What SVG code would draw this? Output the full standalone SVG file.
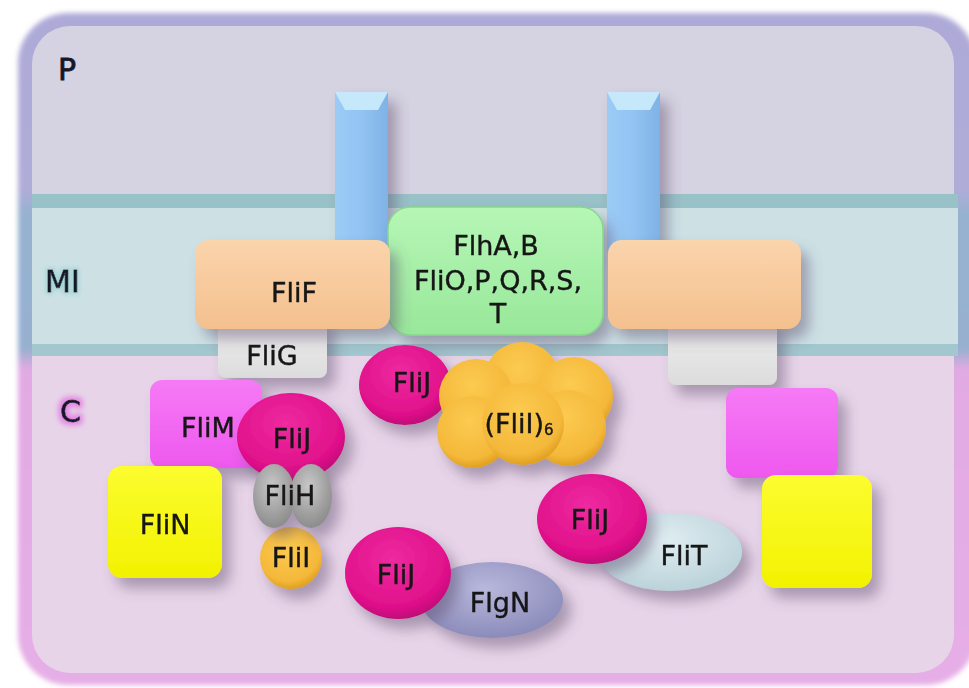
<svg xmlns="http://www.w3.org/2000/svg" width="969" height="688" viewBox="0 0 969 688">
<defs>
<style>
.t{font-family:"DejaVu Sans","Liberation Sans",sans-serif;font-size:27px;fill:#161616;text-anchor:middle;stroke:#161616;stroke-width:0.4px}
.lab{font-family:"DejaVu Sans","Liberation Sans",sans-serif;font-size:30px;fill:#16162a;stroke:#16162a;stroke-width:0.8px}
</style>
<filter id="sh" x="-30%" y="-30%" width="170%" height="170%">
<feDropShadow dx="8" dy="10" stdDeviation="7" flood-color="#5a4a6a" flood-opacity="0.45"/>
</filter>
<filter id="blur" x="-10%" y="-10%" width="120%" height="120%"><feGaussianBlur stdDeviation="2.5"/></filter>
<filter id="glowC" x="-50%" y="-50%" width="200%" height="200%">
<feMorphology in="SourceAlpha" operator="dilate" radius="3" result="d"/>
<feGaussianBlur in="d" stdDeviation="2.5" result="b"/>
<feFlood flood-color="#e28ae2"/><feComposite in2="b" operator="in" result="g"/>
<feMerge><feMergeNode in="g"/><feMergeNode in="SourceGraphic"/></feMerge>
</filter>
<filter id="glowM" x="-50%" y="-50%" width="200%" height="200%">
<feMorphology in="SourceAlpha" operator="dilate" radius="2" result="d"/>
<feGaussianBlur in="d" stdDeviation="2" result="b"/>
<feFlood flood-color="#a9d6d6"/><feComposite in2="b" operator="in" result="g"/>
<feMerge><feMergeNode in="g"/><feMergeNode in="SourceGraphic"/></feMerge>
</filter>
<linearGradient id="frame" x1="0" y1="0" x2="0" y2="1">
<stop offset="0" stop-color="#aeaad8"/><stop offset="0.26" stop-color="#b0acd8"/>
<stop offset="0.3" stop-color="#96b2d0"/><stop offset="0.5" stop-color="#98b0d0"/>
<stop offset="0.53" stop-color="#e2aae2"/><stop offset="1" stop-color="#e6aee6"/>
</linearGradient>
<linearGradient id="blue" x1="0" y1="0" x2="1" y2="0"><stop offset="0" stop-color="#9ccbf6"/><stop offset="0.5" stop-color="#92c4f2"/><stop offset="1" stop-color="#7fb2e6"/></linearGradient>
<linearGradient id="green" x1="0" y1="0" x2="0" y2="1"><stop offset="0" stop-color="#b6f6b6"/><stop offset="1" stop-color="#98e89a"/></linearGradient>
<linearGradient id="peach" x1="0" y1="0" x2="0" y2="1"><stop offset="0" stop-color="#fbd4ac"/><stop offset="1" stop-color="#f4c08e"/></linearGradient>
<linearGradient id="gray" x1="0" y1="0" x2="0" y2="1"><stop offset="0" stop-color="#f0f0f0"/><stop offset="1" stop-color="#dcdcdc"/></linearGradient>
<linearGradient id="mag" x1="0" y1="0" x2="0" y2="1"><stop offset="0" stop-color="#f67af6"/><stop offset="1" stop-color="#ee58ee"/></linearGradient>
<linearGradient id="yel" x1="0" y1="0" x2="0" y2="1"><stop offset="0" stop-color="#fcfc30"/><stop offset="1" stop-color="#f2f200"/></linearGradient>
<radialGradient id="fj" cx="0.45" cy="0.35" r="0.65"><stop offset="0" stop-color="#ee2aa0"/><stop offset="0.8" stop-color="#e0108a"/><stop offset="1" stop-color="#c00878"/></radialGradient>
<radialGradient id="or" cx="0.45" cy="0.35" r="0.65"><stop offset="0" stop-color="#fccb50"/><stop offset="0.8" stop-color="#f4b83a"/><stop offset="1" stop-color="#e0a020"/></radialGradient>
<radialGradient id="gr" cx="0.45" cy="0.35" r="0.65"><stop offset="0" stop-color="#c8c8c8"/><stop offset="1" stop-color="#8c8c8c"/></radialGradient>
<radialGradient id="lt" cx="0.45" cy="0.35" r="0.7"><stop offset="0" stop-color="#e0eef2"/><stop offset="1" stop-color="#b8d0d8"/></radialGradient>
<radialGradient id="lv" cx="0.45" cy="0.35" r="0.7"><stop offset="0" stop-color="#b8b8dc"/><stop offset="1" stop-color="#8888b8"/></radialGradient>
<clipPath id="inner"><rect x="32" y="26" width="922" height="647" rx="38"/></clipPath>
</defs>
<rect x="0" y="0" width="969" height="688" fill="#ffffff"/>

<g id="background">
<rect x="18" y="13" width="958" height="672" rx="50" fill="url(#frame)" filter="url(#blur)"/>
<g clip-path="url(#inner)">
<rect x="32" y="26" width="922" height="180" fill="#d5d2e1"/>
<rect x="32" y="346" width="922" height="330" fill="#e7d4e8"/>
<rect x="32" y="194" width="926" height="160" fill="#cde1e5"/>
<rect x="32" y="194" width="926" height="14" fill="#98c1c8"/>
<rect x="32" y="344" width="926" height="12" fill="#a2c7ce"/>
</g>
<rect x="954" y="194" width="4" height="162" fill="#cde1e5"/>
<rect x="954" y="194" width="4" height="14" fill="#98c1c8"/>
<rect x="954" y="344" width="4" height="12" fill="#a2c7ce"/>
</g>

<g id="labels">
<text class="lab" x="58" y="80">P</text>
<text class="lab" x="45" y="292" filter="url(#glowM)">MI</text>
<text class="lab" x="60" y="422" filter="url(#glowC)">C</text>
</g>

<g id="pillar-left" filter="url(#sh)">
<rect x="335" y="92" width="53" height="160" fill="url(#blue)"/>
<polygon points="335,92 388,92 378,110 345,110" fill="#c6e8fb"/>
</g>
<g id="pillar-right" filter="url(#sh)">
<rect x="607" y="92" width="53" height="160" fill="url(#blue)"/>
<polygon points="607,92 660,92 650,110 617,110" fill="#c6e8fb"/>
</g>

<g id="FliG" filter="url(#sh)">
<rect x="218" y="318" width="109" height="60" rx="8" fill="url(#gray)"/>
<text class="t" x="272" y="365">FliG</text>
</g>
<g id="gray-right" filter="url(#sh)">
<rect x="668" y="318" width="109" height="67" rx="8" fill="url(#gray)"/>
</g>

<g id="FlhA" filter="url(#sh)">
<rect x="388" y="207" width="215" height="128" rx="22" fill="url(#green)" stroke="#88d68a" stroke-width="1.5"/>
<text class="t" x="496" y="255">FlhA,B</text>
<text class="t" x="498" y="290">FliO,P,Q,R,S,</text>
<text class="t" x="498" y="323">T</text>
</g>

<g id="FliF" filter="url(#sh)">
<rect x="195" y="240" width="195" height="89" rx="14" fill="url(#peach)"/>
<text class="t" x="294" y="302">FliF</text>
</g>
<g id="peach-right" filter="url(#sh)">
<rect x="608" y="240" width="193" height="89" rx="14" fill="url(#peach)"/>
</g>

<g id="FliM" filter="url(#sh)">
<rect x="150" y="380" width="112" height="88" rx="12" fill="url(#mag)"/>
<text class="t" x="208" y="437">FliM</text>
</g>
<g id="FliN" filter="url(#sh)">
<rect x="108" y="466" width="114" height="112" rx="14" fill="url(#yel)"/>
<text class="t" x="165" y="534">FliN</text>
</g>

<g id="FliI-small" filter="url(#sh)">
<circle cx="291" cy="558" r="31" fill="url(#or)"/>
<text class="t" x="291" y="567">FliI</text>
</g>
<g id="FliJ-1" filter="url(#sh)">
<ellipse cx="291" cy="437" rx="54" ry="44" fill="url(#fj)"/>
<text class="t" x="292" y="448">FliJ</text>
</g>
<g id="FliH" filter="url(#sh)">
<ellipse cx="274" cy="496" rx="21" ry="32" fill="url(#gr)"/>
<ellipse cx="311" cy="496" rx="21" ry="32" fill="url(#gr)"/>
<text class="t" x="290" y="505">FliH</text>
</g>

<g id="FliJ-2" filter="url(#sh)">
<ellipse cx="405" cy="385" rx="46" ry="40" fill="url(#fj)"/>
<text class="t" x="412" y="392">FliJ</text>
</g>

<g id="FliI6" filter="url(#sh)">
<circle cx="522" cy="380" r="38" fill="url(#or)"/>
<circle cx="476" cy="396" r="37" fill="url(#or)"/>
<circle cx="574" cy="396" r="39" fill="url(#or)"/>
<circle cx="473" cy="432" r="36" fill="url(#or)"/>
<circle cx="568" cy="428" r="38" fill="url(#or)"/>
<circle cx="523" cy="424" r="41" fill="url(#or)"/>
<text class="t" x="519" y="433">(FliI)<tspan font-size="15" dy="2">6</tspan></text>
</g>

<g id="FliT" filter="url(#sh)">
<ellipse cx="670" cy="552" rx="72" ry="39" fill="url(#lt)"/>
<text class="t" x="684" y="565">FliT</text>
</g>
<g id="FliJ-3" filter="url(#sh)">
<ellipse cx="592" cy="519" rx="55" ry="45" fill="url(#fj)"/>
<text class="t" x="590" y="529">FliJ</text>
</g>

<g id="FlgN" filter="url(#sh)">
<ellipse cx="492" cy="600" rx="71" ry="38" fill="url(#lv)"/>
<text class="t" x="500" y="612">FlgN</text>
</g>
<g id="FliJ-4" filter="url(#sh)">
<ellipse cx="398" cy="573" rx="53" ry="46" fill="url(#fj)"/>
<text class="t" x="396" y="584">FliJ</text>
</g>

<g id="mag-right" filter="url(#sh)">
<rect x="726" y="388" width="112" height="90" rx="12" fill="url(#mag)"/>
</g>
<g id="yel-right" filter="url(#sh)">
<rect x="762" y="475" width="110" height="113" rx="14" fill="url(#yel)"/>
</g>

<g id="connectors"></g>
</svg>
